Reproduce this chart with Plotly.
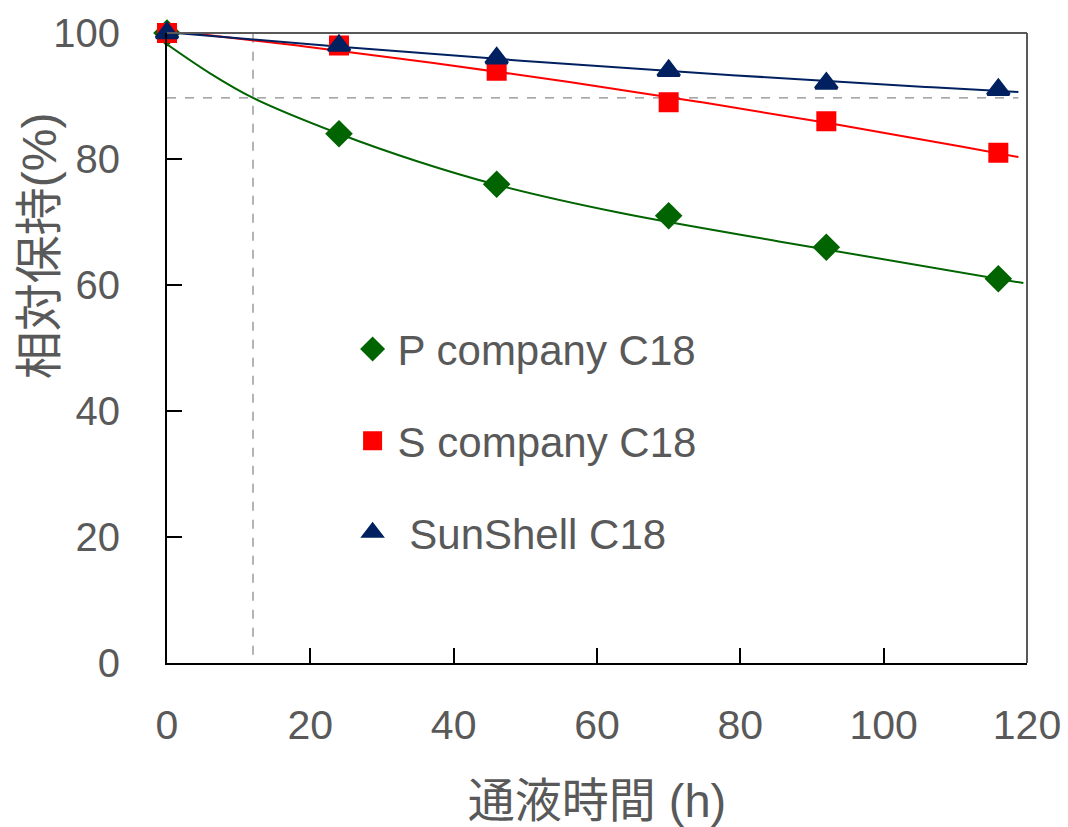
import numpy as np
import plotly.graph_objects as go

# Elapsed flow time (h)
hours = [0, 24, 46, 70, 92, 116]

# Relative retention (%) for each column
p_company = [100, 84, 76, 71, 66, 61]
s_company = [100, 98, 94, 89, 86, 81]
sunshell = [100, 98, 96, 94, 92, 91]

# Smoothed trend of the P company column
p_trend_h = [0, 6, 12, 24, 35, 46, 63, 86, 119.5]
p_trend_v = [98.2, 93.6, 89.7, 84.0, 79.6, 75.9, 71.5, 66.8, 60.3]

# Reference guides: 90 % retention reached after 12 h
guide_h = 12
guide_v = 89.7
guide_h_end = 118.8

names = ["P company C18", "S company C18", " SunShell C18"]
colors = ["#006400", "#FF0000", "#002060"]
symbols = ["diamond", "square", "triangle-up"]
sizes = [18, 17, 19]

FONT = "Liberation Sans, Arial, Noto Sans CJK JP, sans-serif"
GREY = "#595959"

fig = go.Figure()

# Trend lines
fig.add_trace(go.Scatter(x=p_trend_h, y=p_trend_v, mode="lines",
                         line=dict(color=colors[0], width=2, shape="spline", smoothing=1.0),
                         showlegend=False, hoverinfo="skip"))

fit_x = np.linspace(0, guide_h_end, 120)
for vals, col in [(s_company, colors[1]), (sunshell, colors[2])]:
    coef = np.polyfit(hours, vals, 2)
    fig.add_trace(go.Scatter(x=fit_x, y=np.polyval(coef, fit_x), mode="lines",
                             line=dict(color=col, width=2),
                             showlegend=False, hoverinfo="skip"))

# Measured points
for i, vals in enumerate([p_company, s_company, sunshell]):
    fig.add_trace(go.Scatter(x=hours, y=vals, mode="markers", name=names[i],
                             legendgroup=str(i),
                             marker=dict(symbol=symbols[i], size=sizes[i], color=colors[i],
                                         line=dict(width=3, color=colors[i])),
                             cliponaxis=False))

# Dashed guides
fig.add_shape(type="line", x0=0, x1=guide_h_end, y0=guide_v, y1=guide_v,
              line=dict(color="#8C8C8C", width=1.3, dash="dash"), layer="below")
fig.add_shape(type="line", x0=guide_h, x1=guide_h, y0=1.3, y1=100,
              line=dict(color="#8C8C8C", width=1.3, dash="dash"), layer="below")

# Top and right frame
fig.add_shape(type="line", xref="paper", yref="paper", x0=0, x1=1, y0=1, y1=1,
              line=dict(color=GREY, width=2))
fig.add_shape(type="line", xref="paper", yref="paper", x0=1, x1=1, y0=0, y1=1,
              line=dict(color=GREY, width=2))

# Vertical axis title
fig.add_annotation(text="相対保持(%)", xref="paper", yref="paper",
                   x=-0.149, y=0.663, xanchor="center", yanchor="middle",
                   textangle=-90, showarrow=False,
                   font=dict(size=48, color=GREY, family=FONT))

fig.update_layout(
    width=1068, height=827,
    margin=dict(l=167, r=41, t=33, b=164),
    plot_bgcolor="white", paper_bgcolor="white",
    font=dict(family=FONT, color=GREY),
    showlegend=True,
    legend=dict(x=0.21, y=0.552, xanchor="left", yanchor="top",
                font=dict(size=42, color=GREY, family=FONT),
                bgcolor="rgba(0,0,0,0)", tracegroupgap=34,
                itemsizing="trace", itemwidth=40),
)

fig.update_xaxes(
    range=[0, 120], tickvals=[0, 20, 40, 60, 80, 100, 120],
    showgrid=False, zeroline=False, automargin=False,
    showline=True, linecolor="black", linewidth=2,
    ticks="inside", ticklen=15, tickwidth=2, tickcolor="black",
    tickfont=dict(size=41, color=GREY), ticklabelstandoff=25,
    title=dict(text="通液時間 (h)", font=dict(size=47, color=GREY), standoff=39),
)
fig.update_yaxes(
    range=[0, 100], tickvals=[0, 20, 40, 60, 80, 100],
    showgrid=False, zeroline=False, automargin=False,
    showline=True, linecolor="black", linewidth=2,
    ticks="inside", ticklen=15, tickwidth=2, tickcolor="black",
    tickfont=dict(size=40, color=GREY), ticklabelstandoff=37,
)

fig.write_html("out.html")
